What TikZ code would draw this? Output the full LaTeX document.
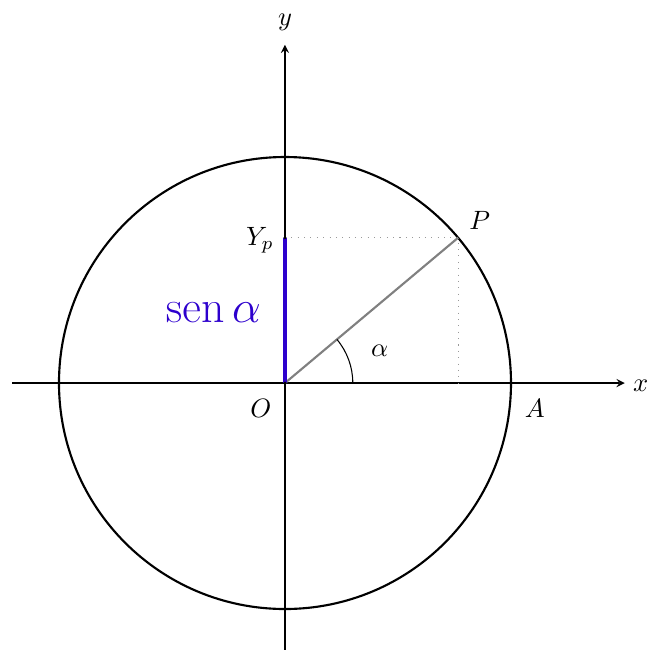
\documentclass[tikz,border=0pt]{standalone}
\usepackage{amsmath}
\definecolor{senblue}{RGB}{45,0,205}
\begin{document}
\begin{tikzpicture}[x=75.33pt/2.65,y=75.33pt/2.65,
  axis/.style={->,>=stealth},
  helper/.style={gray!80,dotted},
  lbl/.style={inner sep=2pt}]
\useasboundingbox (-3.783,-3.544) rectangle (4.819,5.084);
\coordinate (O) at (0,0);
\coordinate (P) at (40:3);
\coordinate (Yp) at (0,{3*sin(40)});
\coordinate (Px) at ({3*cos(40)},0);
\coordinate (A) at (3,0);
\coordinate (xs) at (-3.62,0);
\coordinate (xe) at (4.51,0);
\coordinate (ys) at (0,-3.6);
\coordinate (ye) at (0,4.49);
\draw[axis] (xs) -- (xe) node[right,lbl,xshift=1pt,yshift=-1pt] (xl) {$x$};
\draw[axis] (ys) -- (ye) node[above,lbl,yshift=3pt] (yl) {$y$};
\draw[thick] (O) circle (3);
\draw[helper] (Yp) -- (P) -- (Px);
\draw[gray,thick] (O) -- (P);
\draw (0.9,0) arc (0:40:0.9);
\node (al) at (19:1.33) {$\alpha$};
\draw[senblue,very thick] (O) -- (Yp);
\fill (O) circle (0.6pt);
\fill (Yp) circle (0.6pt);
\node[left,lbl,xshift=-2pt,yshift=-1pt] (yplbl) at (Yp) {$Y_p$};
\node[senblue,font=\fontsize{19}{22}\selectfont] (sen) at (-0.95,0.94) {$\operatorname{sen}\alpha$};
\node[below left,inner sep=4pt,xshift=-1pt,yshift=-2pt] (Ol) at (O) {$O$};
\node[below right,inner sep=4pt,xshift=1pt,yshift=-2pt] (Al) at (A) {$A$};
\node[above right,inner sep=3pt,xshift=1pt] (Pl) at (P) {$P$};
\end{tikzpicture}
\end{document}
